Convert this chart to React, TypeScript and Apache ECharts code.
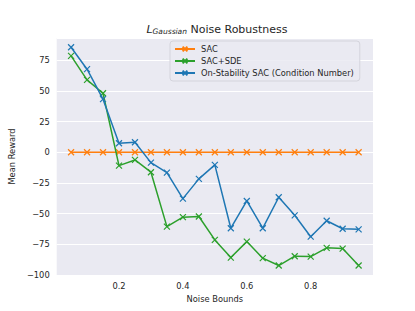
import React, { useEffect, useRef } from "react";
import * as echarts from "echarts";

const noiseBounds = [0.05, 0.1, 0.15, 0.2, 0.25, 0.3, 0.35, 0.4, 0.45, 0.5, 0.55, 0.6, 0.65, 0.7, 0.75, 0.8, 0.85, 0.9, 0.95];
const sac = [0, 0, 0, 0, 0, 0, 0, 0, 0, 0, 0, 0, 0, 0, 0, 0, 0, 0, 0];
const sacSde = [78.4, 58.9, 48, -10.9, -6.3, -16.3, -60.6, -52.9, -52.4, -71.4, -85.8, -72.8, -86.3, -92.3, -84.7, -85, -77.9, -78.5, -92.3];
const onStability = [85.5, 67.6, 43.2, 7.3, 8.1, -8.5, -16.6, -37.8, -21.7, -10.3, -61.9, -39.7, -61.9, -36.7, -51.4, -68.8, -55.8, -62.3, -62.8];
const xTicks = [0.2, 0.4, 0.6, 0.8];
const seriesNames = ["SAC", "SAC+SDE", "On-Stability SAC (Condition Number)"];
const colors = ["#ff7f0e", "#2ca02c", "#1f77b4"];

const FONT = "DejaVu Sans";
const TEXT = "#262626";
const X_SYMBOL = "path://M0,0L10,10M10,0L0,10";

export default function App() {
  const ref = useRef<HTMLDivElement>(null);
  useEffect(() => {
    if (!ref.current) return;
    const chart = echarts.init(ref.current, undefined, { renderer: "svg" });
    const datasets = [sac, sacSde, onStability];
    chart.setOption({
      animation: false,
      backgroundColor: "#ffffff",
      textStyle: { fontFamily: FONT },
      title: {
        text: "{l|L}{s|Gaussian}{n| Noise Robustness}",
        left: 212,
        textAlign: "center",
        top: 17,
        textStyle: {
          fontWeight: "normal",
          rich: {
            l: { fontFamily: FONT, fontSize: 11, fontStyle: "italic", fontWeight: "normal", color: TEXT, verticalAlign: "bottom", lineHeight: 13 },
            s: { fontFamily: FONT, fontSize: 7.5, fontStyle: "italic", fontWeight: "normal", color: TEXT, verticalAlign: "bottom", lineHeight: 8 },
            n: { fontFamily: FONT, fontSize: 11, fontWeight: "normal", color: TEXT, verticalAlign: "bottom", lineHeight: 13 },
          },
        },
      },
      grid: { left: 52, right: 42, top: 38, bottom: 36, backgroundColor: "#eaeaf2", show: true, borderWidth: 0 },
      legend: {
        orient: "vertical",
        left: 170,
        top: 41,
        width: 199,
        itemGap: 4,
        itemWidth: 20,
        itemHeight: 6,
        padding: [4, 6, 4, 4],
        backgroundColor: "rgba(234,234,242,0.85)",
        borderColor: "#d4d4dc",
        borderWidth: 1,
        borderRadius: 3,
        textStyle: { fontFamily: FONT, fontSize: 8.3, color: TEXT, padding: [0, 0, 0, 1] },
        data: seriesNames,
      },
      xAxis: {
        type: "value",
        min: 0.005,
        max: 0.995,
        name: "Noise Bounds",
        nameLocation: "middle",
        nameGap: 19,
        nameTextStyle: { fontFamily: FONT, fontSize: 8.3, color: TEXT },
        axisLine: { show: false },
        axisTick: { show: false },
        splitLine: { show: false },
        axisLabel: {
          customValues: xTicks,
          formatter: (v: number) => String(Math.round(v * 10) / 10),
          fontFamily: FONT,
          fontSize: 8.3,
          color: TEXT,
          margin: 7,
        },
      },
      yAxis: {
        type: "value",
        min: -100,
        max: 93,
        interval: 25,
        name: "Mean Reward",
        nameLocation: "middle",
        nameGap: 36,
        nameTextStyle: { fontFamily: FONT, fontSize: 8.3, color: TEXT },
        axisLine: { show: false },
        axisTick: { show: false },
        splitLine: { show: true, lineStyle: { color: "#ffffff", width: 1 } },
        axisLabel: {
          showMaxLabel: false,
          formatter: (v: number) => (v % 25 === 0 ? (v < 0 ? "\u2212" + Math.abs(v) : String(v)) : ""),
          fontFamily: FONT,
          fontSize: 8.3,
          color: TEXT,
          margin: 7,
        },
      },
      series: datasets.map((d, i) => ({
        name: seriesNames[i],
        type: "line",
        data: noiseBounds.map((x, j) => [x, d[j]]),
        symbol: X_SYMBOL,
        symbolSize: 6,
        showSymbol: true,
        lineStyle: { color: colors[i], width: 1.5 },
        itemStyle: { color: colors[i], borderColor: colors[i], borderWidth: 1.2 },
        emphasis: { disabled: true },
        z: 2 + i,
      })),
    });
    return () => chart.dispose();
  }, []);
  return <div ref={ref} style={{ position: "fixed", left: 0, top: 0, width: 415, height: 311 }} />;
}
